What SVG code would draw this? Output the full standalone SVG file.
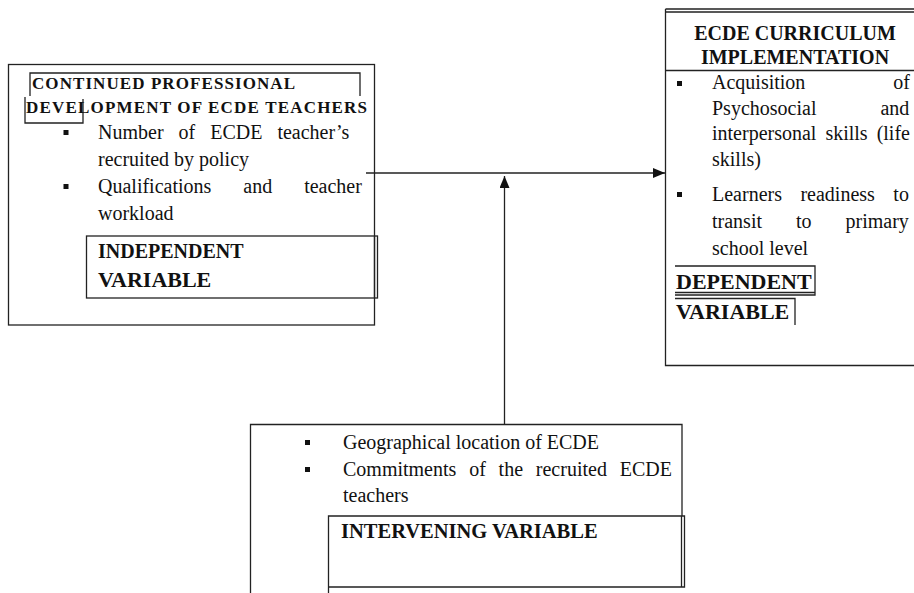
<svg xmlns="http://www.w3.org/2000/svg" width="914" height="593" viewBox="0 0 914 593">
  <defs>
    <style>
      .ln { fill: none; stroke: #222; stroke-width: 1.3; }
      .t { font-family: "Liberation Serif", "DejaVu Serif", serif; font-size: 20px; fill: #111; }
      .b { font-family: "Liberation Serif", "DejaVu Serif", serif; font-weight: bold; fill: #111; }
      .blt { fill: #111; }
    </style>
    <marker id="arrow" viewBox="0 0 12 10" refX="12" refY="5" markerWidth="12" markerHeight="10" markerUnits="userSpaceOnUse" orient="auto">
      <path d="M0,0 L12,5 L0,10 z" fill="#111"/>
    </marker>
  </defs>
  <rect width="914" height="593" fill="#ffffff"/>

  <!-- Independent variable node -->
  <g id="independent">
    <rect class="ln" x="8.5" y="64.5" width="366" height="260.5"/>
    <path class="ln" d="M30,96 V73 H360 V96"/>
    <path class="ln" d="M25,97 V123 H83 V99"/>
    <text class="b" x="32" y="89" font-size="17" textLength="263" lengthAdjust="spacing">CONTINUED PROFESSIONAL</text>
    <text class="b" x="26" y="113" font-size="17" textLength="341" lengthAdjust="spacing">DEVELOPMENT OF ECDE TEACHERS</text>
    <rect class="blt" x="63.5" y="130" width="5" height="5"/>
    <text class="t" x="98" y="139" style="word-spacing:10px">Number of ECDE teacher’s</text>
    <text class="t" x="98" y="166">recruited by policy</text>
    <rect class="blt" x="63.5" y="184" width="5" height="5"/>
    <text class="t" x="98" y="193" style="word-spacing:27px">Qualifications and teacher</text>
    <text class="t" x="98" y="220">workload</text>
    <rect class="ln" x="86.5" y="236" width="291" height="62"/>
    <line class="ln" x1="374.5" y1="236" x2="374.5" y2="298"/>
    <text class="b" x="98" y="258" font-size="20">INDEPENDENT</text>
    <text class="b" x="98" y="287" font-size="22">VARIABLE</text>
  </g>

  <!-- Dependent variable node -->
  <g id="dependent">
    <path class="ln" d="M665.5,9 H914 M665.5,12 H914 M665.5,9 V365.5 H914 M665.5,70.5 H914"/>
    <text class="b" x="795" y="40" font-size="20" text-anchor="middle">ECDE CURRICULUM</text>
    <text class="b" x="795" y="63.5" font-size="20" text-anchor="middle">IMPLEMENTATION</text>
    <rect class="blt" x="677" y="81" width="5" height="5"/>
    <text class="t" x="712" y="89" style="word-spacing:83px">Acquisition of</text>
    <text class="t" x="712" y="115" style="word-spacing:59px">Psychosocial and</text>
    <text class="t" x="712" y="140" style="word-spacing:4px">interpersonal skills (life</text>
    <text class="t" x="712" y="166">skills)</text>
    <rect class="blt" x="677" y="192" width="5" height="5"/>
    <text class="t" x="712" y="201" style="word-spacing:13.5px">Learners readiness to</text>
    <text class="t" x="712" y="228" style="word-spacing:29px">transit to primary</text>
    <text class="t" x="712" y="255">school level</text>
    <path class="ln" d="M675,266 H815 V295 H675 M675,292.5 H815"/>
    <text class="b" x="676" y="289" font-size="22">DEPENDENT</text>
    <path class="ln" d="M675,298.5 H795 V325"/>
    <text class="b" x="676" y="319" font-size="22">VARIABLE</text>
  </g>

  <!-- Intervening variable node -->
  <g id="intervening">
    <path class="ln" d="M250.5,593 V424.5 H682 V516"/>
    <rect class="blt" x="305" y="440" width="5" height="5"/>
    <text class="t" x="343" y="449">Geographical location of ECDE</text>
    <rect class="blt" x="305" y="467" width="5" height="5"/>
    <text class="t" x="343" y="476" style="word-spacing:7.8px">Commitments of the recruited ECDE</text>
    <text class="t" x="343" y="502">teachers</text>
    <path class="ln" d="M328.5,593 V516 H684.5 V587 H328.5"/>
    <line class="ln" x1="681.5" y1="516" x2="681.5" y2="587"/>
    <text class="b" x="341" y="538" font-size="20.5">INTERVENING VARIABLE</text>
  </g>

  <!-- Connectors -->
  <g id="connectors">
    <line class="ln" x1="366" y1="173" x2="665" y2="173" marker-end="url(#arrow)"/>
    <line class="ln" x1="504.5" y1="424" x2="504.5" y2="176" marker-end="url(#arrow)"/>
  </g>
</svg>
